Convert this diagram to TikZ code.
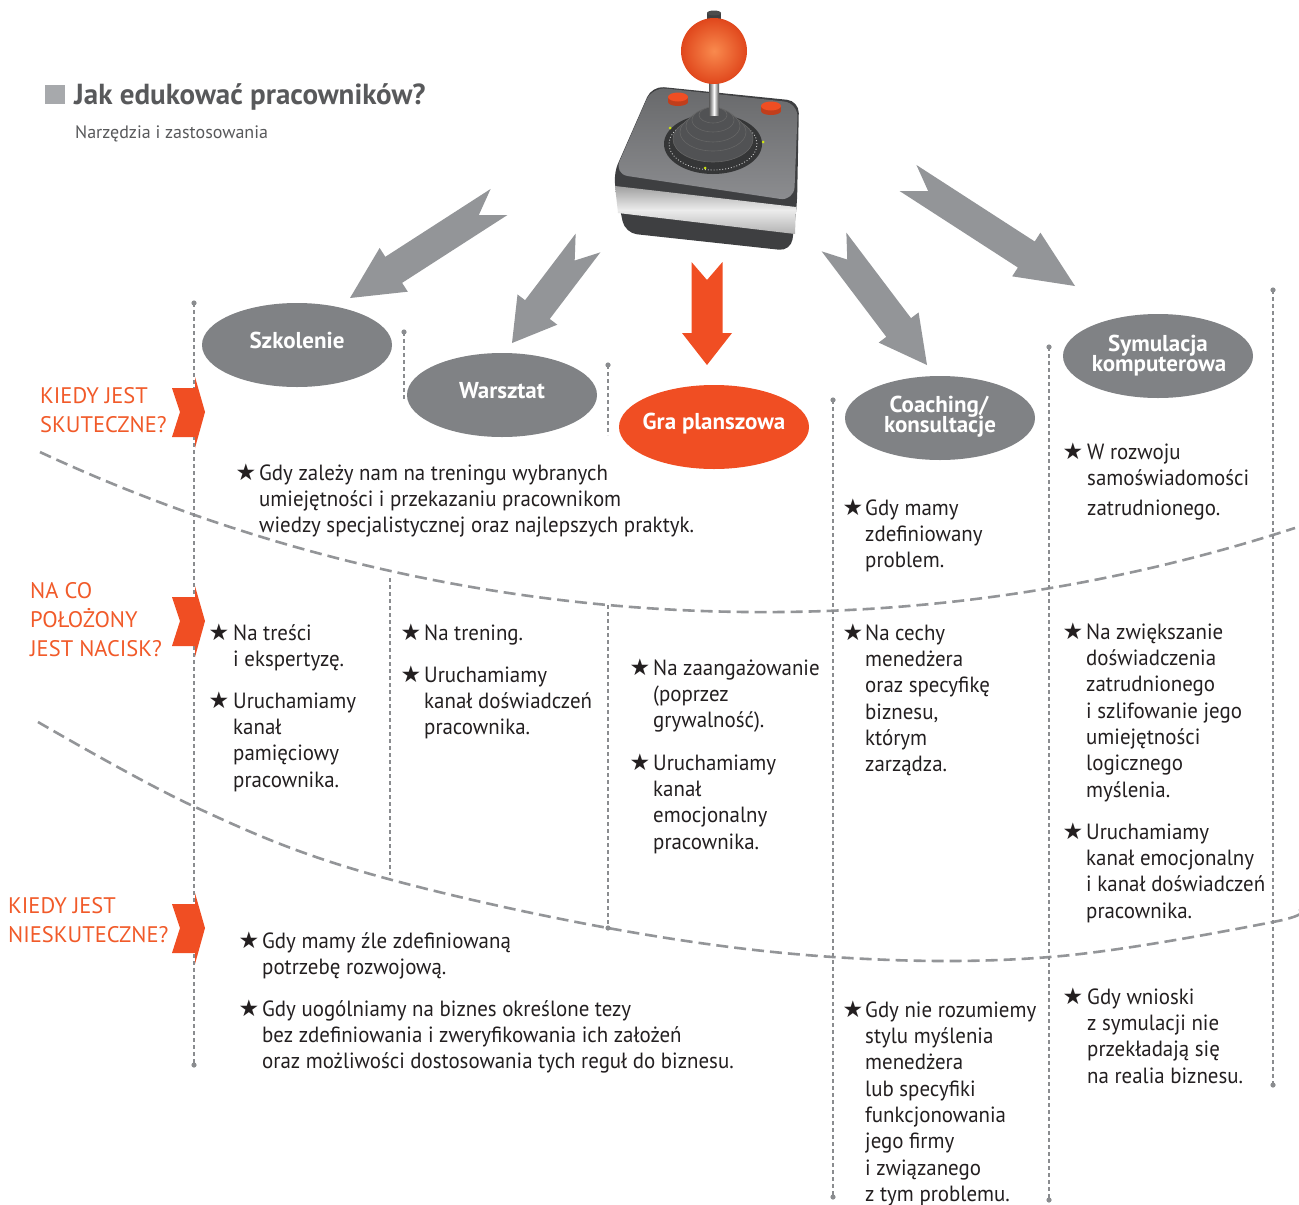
\documentclass[tikz,border=0pt]{standalone}
\usepackage{fontspec}
\setmainfont{PT Sans}
\newfontfamily\bodyf[FakeStretch=0.95]{PT Sans}
\newfontfamily\starf{DejaVu Sans}
\usetikzlibrary{calc,shapes.geometric}
\definecolor{ell}{HTML}{808285}
\definecolor{arr}{HTML}{939598}
\definecolor{org}{HTML}{F04E23}
\definecolor{lab}{HTML}{F15A29}
\definecolor{txt}{HTML}{231F20}
\definecolor{ttl}{HTML}{58595B}
\definecolor{sq}{HTML}{A7A9AC}
\definecolor{vgrey}{HTML}{8A8C8F}
\definecolor{cgrey}{HTML}{939598}
\definecolor{jdark}{HTML}{3E3F41}
\definecolor{jface}{HTML}{68696B}
\definecolor{jrim}{HTML}{8C8D90}
\definecolor{ballin}{HTML}{F98A4E}
\definecolor{ballout}{HTML}{E0471C}
\newcommand\barrow[7]{%
  \coordinate (#1h) at ($(#2)!#6pt!(#1)$);
  \fill[#3] ($(#1)!#4pt!90:(#2)$) -- ($(#1)!#7pt!(#2)$) -- ($(#1)!#4pt!-90:(#2)$)
    -- ($(#1h)!#4pt!-90:(#2)$) -- ($(#1h)!#5pt!-90:(#2)$) -- (#2)
    -- ($(#1h)!#5pt!90:(#2)$) -- ($(#1h)!#4pt!90:(#2)$) -- cycle;}
\newcommand\chevron[1]{%
  \fill[org] (172,{#1-24}) -- (195,{#1-24}) -- (195,{#1-35}) -- (205,#1)
    -- (195,{#1+36}) -- (195,{#1+25}) -- (172,{#1+25}) -- (180,#1) -- cycle;}
\newcommand\bul[5]{%
  \node[bstar] (#1s) at ({#2-1.5},#4) {★};
  \node[body] (#1) at (#3,{#4-18.41}) {\strut #5};}
\newcommand\vdl[5]{%
  \draw[vdash] (#1,#2) -- (#1,#3);
  \ifnum#4=1 \fill[vgrey] (#1,#2) circle[radius=2.6pt];\fi
  \ifnum#5=1 \fill[vgrey] (#1,#3) circle[radius=2.6pt];\fi}
\begin{document}
\begin{tikzpicture}[x=1pt,y=-1pt,
  gell/.style={ellipse, fill=ell, minimum width=190pt, minimum height=84pt, inner sep=0pt},
  oell/.style={gell, fill=org},
  etxt/.style={font=\bfseries\fontsize{23}{19}\selectfont, text=white, inner sep=0pt, anchor=base},
  body/.style={font=\bodyf\fontsize{22}{26.3}\selectfont, text=txt, inner sep=0pt, align=left, anchor=north west},
  bstar/.style={font=\starf\fontsize{23}{25}\selectfont, text=txt, inner sep=0pt, anchor=base west},
  labtxt/.style={font=\fontsize{22.5}{29}\selectfont, text=lab, inner sep=0pt, align=left, anchor=north west},
  vdash/.style={draw=vgrey, line width=1.1pt, dash pattern=on 4pt off 3pt},
  cdash/.style={draw=cgrey, line width=2.6pt, dash pattern=on 12pt off 6pt},
]
\useasboundingbox (0,0) rectangle (1299,1205);
\fill[white] (0,0) rectangle (1299,1205);

% title
\fill[sq] (45,85) rectangle (65,104);
\node[font=\bfseries\fontsize{29}{33}\selectfont, text=ttl, inner sep=0pt, anchor=base west] (title) at (74,104) {Jak edukować pracowników?};
\node[font=\fontsize{18}{21}\selectfont, text=ttl, inner sep=0pt, anchor=base west] (subtitle) at (75,138) {Narzędzia i zastosowania};

% dashed curves
\draw[cdash] plot[domain=40:1295, samples=90, variable=\t] (\t, {100*(-11.055+sqrt(295.0172-((\t-764)/100)^2))});
\draw[cdash] plot[smooth, tension=0.6] coordinates {(38,722) (193,806) (360,871) (608,928) (833,957) (1050,957) (1273,922) (1299,909)};

% vertical dashed lines
\vdl{194}{303}{1065}{1}{1}
\vdl{404}{332}{400}{1}{0}
\vdl{608}{365}{435}{1}{0}
\vdl{390}{578}{875}{0}{0}
\vdl{608}{605}{928}{0}{1}
\vdl{833}{400}{1197}{1}{1}
\vdl{1049}{347}{1200}{1}{1}
\vdl{1273}{290}{1085}{1}{1}

% chevrons and side labels
\chevron{412}
\chevron{621}
\chevron{928}
\node[labtxt] (q1) at (40,382.7) {\strut KIEDY JEST\\SKUTECZNE?};
\node[labtxt] (q2) at (30,577.7) {\strut NA CO\\POŁOŻONY\\JEST NACISK?};
\node[labtxt] (q3) at (8,892.7) {\strut KIEDY JEST\\NIESKUTECZNE?};

% joystick
\fill[jdark, rounded corners=12] (652,86) -- (799,101) -- (797,205) -- (791,251) -- (625,233) -- (613,175) -- cycle;
\shade[top color=gray!75, bottom color=gray!60, middle color=gray!15] (615,186) -- (796,207) -- (795,234) -- (618,213) -- cycle;
\shade[top color=jface, bottom color=jrim, rounded corners=14] (652,87) -- (798,103) -- (794,201) -- (614,174) -- cycle;
\fill[jdark!85!black] (713,144) ellipse[x radius=49pt, y radius=30pt];
\draw[white!60!gray, line width=0.9pt, dotted] (713,144) ellipse[x radius=44pt, y radius=26pt];
\fill[yellow!80!green] (670,128) circle[radius=1.5pt] (705,168) circle[radius=1.5pt] (763,142) circle[radius=1.5pt];
\foreach \cy/\rx/\ry in {139/40/23, 132/33/19, 126/27/16, 120/21/12, 115/14/8} {
  \fill[jdark!90!white] (713,\cy) ellipse[x radius=\rx pt, y radius=\ry pt];
  \draw[gray!80!black, line width=0.6pt] (713,\cy) ellipse[x radius=\rx pt, y radius=\ry pt];
}
\foreach \bx/\by in {678/97, 771/106} {
  \fill[org!80!black] (\bx-10,\by) rectangle (\bx+10,\by+5);
  \fill[org!80!black] (\bx,\by+5) ellipse[x radius=10pt, y radius=4pt];
  \fill[org] (\bx,\by) ellipse[x radius=10pt, y radius=4.5pt];
}
\shade[left color=gray!70!black, right color=gray!60!black, middle color=white] (709,74) rectangle (719,115);
\fill[jdark] (707,13) rectangle (721,24);
\fill[gray!60!black] (714,13) ellipse[x radius=7pt, y radius=2.5pt];
\shade[inner color=ballin, outer color=ballout] (714,51) circle[radius=33pt];

% arrows
\coordinate (a1t) at (499,202); \coordinate (a1p) at (350,298);
\coordinate (a2t) at (588,243); \coordinate (a2p) at (512,343);
\coordinate (a3t) at (707,262); \coordinate (a3p) at (707,365);
\coordinate (a4t) at (834,242); \coordinate (a4p) at (927,365);
\coordinate (a5t) at (908,178); \coordinate (a5p) at (1075,286);
\barrow{a1t}{a1p}{arr}{15.5}{26}{52}{24}
\barrow{a2t}{a2p}{arr}{15.5}{25}{42}{22}
\barrow{a3t}{a3p}{org}{15.5}{25}{32}{18}
\barrow{a4t}{a4p}{arr}{15.5}{25}{47}{22}
\barrow{a5t}{a5p}{arr}{15.5}{26}{58}{24}

% ellipses
\node[gell] (szk) at (297,345) {};
\node[gell] (war) at (502,395) {};
\node[oell] (gra) at (714,427) {};
\node[gell] (coa) at (940,418) {};
\node[gell] (sym) at (1158,356) {};
\node[etxt] (szkt) at (297,348) {Szkolenie};
\node[etxt] (wart) at (502,398) {Warsztat};
\node[etxt] (grat) at (714,429) {Gra planszowa};
\node[etxt] (coat1) at (939,412) {Coaching/};
\node[etxt] (coat2) at (940,432) {konsultacje};
\node[etxt] (symt1) at (1158,351) {Symulacja};
\node[etxt] (symt2) at (1159,371) {komputerowa};

% body text
\bul{s1}{237}{259}{480}{Gdy zależy nam na treningu wybranych\\umiejętności i przekazaniu pracownikom\\wiedzy specjalistycznej oraz najlepszych praktyk.}
\bul{s4}{844}{865}{515}{Gdy mamy\\zdefiniowany\\problem.}
\bul{s5}{1064}{1087}{459}{W rozwoju\\samoświadomości\\[3.7pt]zatrudnionego.}
\bul{n1a}{210}{233}{640}{Na treści\\i ekspertyzę.}
\bul{n1b}{210}{233}{708}{Uruchamiamy\\kanał\\pamięciowy\\pracownika.}
\bul{n2a}{402}{424}{640}{Na trening.}
\bul{n2b}{402}{424}{682}{Uruchamiamy\\kanał doświadczeń\\pracownika.}
\bul{n3a}{631}{653}{675}{Na zaangażowanie\\(poprzez\\grywalność).}
\bul{n3b}{631}{653}{770}{Uruchamiamy\\kanał\\emocjonalny\\pracownika.}
\bul{n4}{844}{865}{640}{Na cechy\\menedżera\\oraz specyfikę\\biznesu,\\którym\\zarządza.}
\bul{n5a}{1064}{1086}{639}{Na zwiększanie\\doświadczenia\\zatrudnionego\\i szlifowanie jego\\umiejętności\\logicznego\\myślenia.}
\bul{n5b}{1064}{1086}{839}{Uruchamiamy\\kanał emocjonalny\\i kanał doświadczeń\\pracownika.}
\bul{k1a}{240}{262}{948}{Gdy mamy źle zdefiniowaną\\potrzebę rozwojową.}
\bul{k1b}{240}{262}{1016}{Gdy uogólniamy na biznes określone tezy\\bez zdefiniowania i zweryfikowania ich założeń\\oraz możliwości dostosowania tych reguł do biznesu.}
\bul{k4}{844}{865}{1017}{Gdy nie rozumiemy\\stylu myślenia\\menedżera\\lub specyfiki\\funkcjonowania\\jego firmy\\i związanego\\z tym problemu.}
\bul{k5}{1064}{1087}{1004}{Gdy wnioski\\z symulacji nie\\przekładają się\\na realia biznesu.}
\end{tikzpicture}
\end{document}
